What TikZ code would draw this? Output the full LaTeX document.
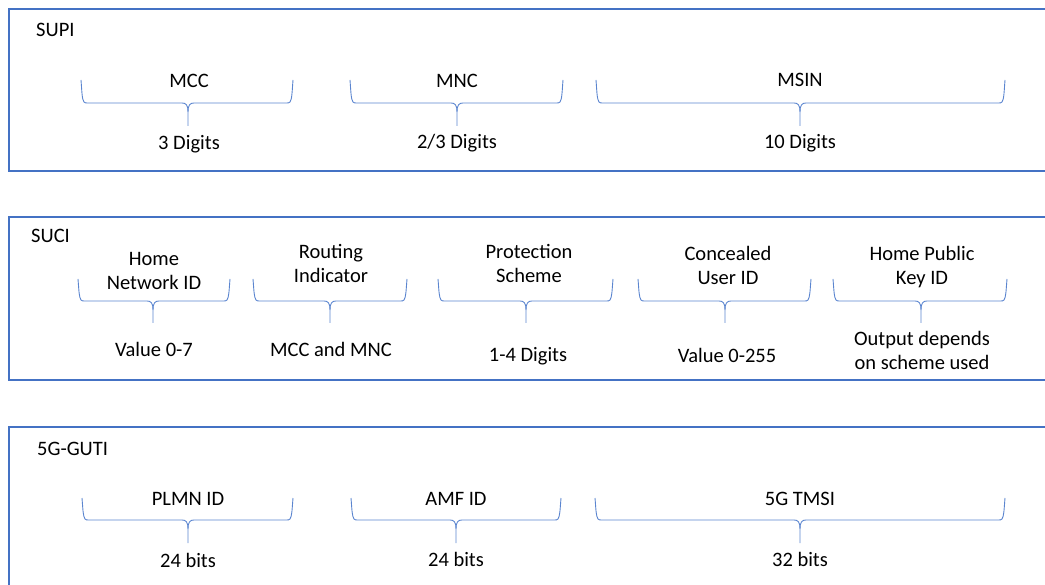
\documentclass[tikz,border=0pt]{standalone}
\usepackage{fontspec}
\setmainfont{Carlito}
\definecolor{frameblue}{HTML}{4472C4}
\definecolor{braceblue}{HTML}{5B85CF}
\tikzset{
  panel/.style={draw=frameblue, line width=2pt},
  fieldbrace/.style={draw=braceblue, line width=0.9pt},
  txt/.style={inner sep=0pt, anchor=base, font=\fontsize{20.5}{24.5}\selectfont, align=center},
  title/.style={inner sep=0pt, anchor=base west, font=\fontsize{20.5}{24.5}\selectfont},
}
% curly brace opening upwards: #1 left x, #2 right x, #3 tip x, #4 top y, #5 bar y, #6 tip end y
\newcommand\upbrace[6]{%
  \draw[fieldbrace] (#1,#4) .. controls (#1+1,#5-10) and (#1+1,#5-4) .. (#1+3,#5-1)
    .. controls (#1+4,#5) .. (#1+9,#5) -- (#3-6,#5)
    .. controls (#3-2,#5) and (#3,#5+2) .. (#3,#5+9) -- (#3,#6);
  \draw[fieldbrace] (#2,#4) .. controls (#2-1,#5-10) and (#2-1,#5-4) .. (#2-3,#5-1)
    .. controls (#2-4,#5) .. (#2-9,#5) -- (#3+6,#5)
    .. controls (#3+2,#5) and (#3,#5+2) .. (#3,#5+9);
}
\begin{document}
\begin{tikzpicture}[x=1pt,y=-1pt]
\useasboundingbox (0,0) rectangle (1045,585);
\clip (0,0) rectangle (1045,585);

% panels (they run past the right and bottom edges)
\draw[panel] (1060,9) -- (9,9) -- (9,171) -- (1060,171);
\draw[panel] (1060,217) -- (9,217) -- (9,380) -- (1060,380);
\draw[panel] (1060,427) -- (9,427) -- (9,600);

% ---------------- SUPI ----------------
\node[title] (supi) at (36,37) {SUPI};
\upbrace{81}{293}{188}{80}{103}{126}
\upbrace{350}{563}{457}{80}{103}{126}
\upbrace{596}{1005}{800}{80}{103}{126}
\node[txt] (mcc)  at (189,88) {MCC};
\node[txt] (mnc)  at (457,88) {MNC};
\node[txt] (msin) at (800,87) {MSIN};
\node[txt] (mccd)  at (189,150) {3 Digits};
\node[txt] (mncd)  at (457,149) {2/3 Digits};
\node[txt] (msind) at (800,149) {10 Digits};

% ---------------- SUCI ----------------
% two-line labels are placed by the baseline of their last line
\node[title] (suci) at (31,243) {SUCI};
\upbrace{78}{230}{153}{279}{301}{323}
\upbrace{253}{407}{330}{279}{301}{323}
\upbrace{438}{613}{526}{279}{301}{323}
\upbrace{638}{811}{725}{279}{301}{323}
\upbrace{833}{1007}{921}{279}{301}{323}
\node[txt] (hn)   at (154,290) {Home\\Network ID};
\node[txt] (ri)   at (331,283) {Routing\\Indicator};
\node[txt] (ps)   at (529,283) {Protection\\Scheme};
\node[txt] (cu)   at (728,285) {Concealed\\User ID};
\node[txt] (hpk)  at (922,285) {Home Public\\Key ID};
\node[txt] (hnv)  at (154,357) {Value 0-7};
\node[txt] (riv)  at (331,357) {MCC and MNC};
\node[txt] (psv)  at (528,362) {1-4 Digits};
\node[txt] (cuv)  at (727,363) {Value 0-255};
\node[txt] (hpkv) at (922,370) {Output depends\\on scheme used};

% ---------------- 5G-GUTI ----------------
\node[title] (guti) at (37,455) {5G-GUTI};
\upbrace{82}{293}{188}{498}{520}{543}
\upbrace{351}{561}{456}{498}{520}{543}
\upbrace{595}{1005}{800}{498}{520}{543}
\node[txt] (plmn) at (188,505) {PLMN ID};
\node[txt] (amf)  at (456,505) {AMF ID};
\node[txt] (tmsi) at (800,505) {5G TMSI};
\node[txt] (plmnb) at (188,567) {24 bits};
\node[txt] (amfb)  at (456,566) {24 bits};
\node[txt] (tmsib) at (800,566) {32 bits};
\end{tikzpicture}
\end{document}
